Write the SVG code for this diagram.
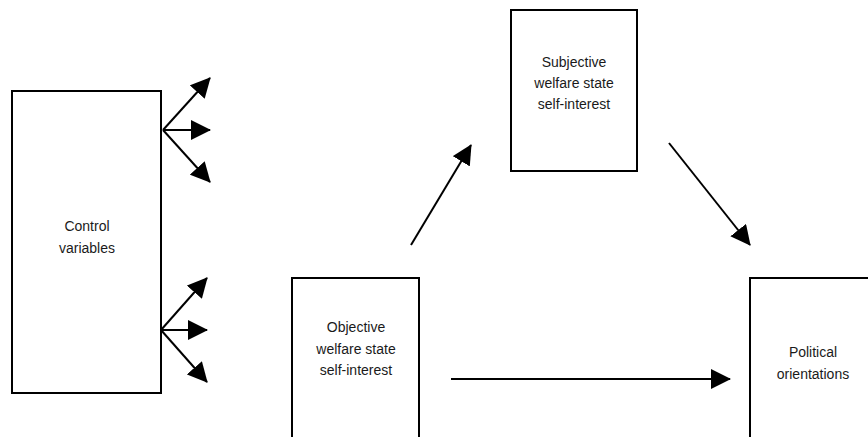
<svg xmlns="http://www.w3.org/2000/svg" width="868" height="437" viewBox="0 0 868 437">
<defs>
<marker id="ah" markerUnits="userSpaceOnUse" markerWidth="20" markerHeight="20" refX="19" refY="10" orient="auto" viewBox="0 0 20 20">
<path d="M0,0 L20,10 L0,20 z" fill="#000"/>
</marker>
<style>
.box{fill:#fff;stroke:#000;stroke-width:2}
.lbl{font-family:"Liberation Sans",Arial,sans-serif;font-size:14px;fill:#1a1a1a;text-anchor:middle}
.edge{stroke:#000;stroke-width:2;fill:none;marker-end:url(#ah)}
</style>
</defs>
<rect width="868" height="437" fill="#fff"/>
<g id="control">
<rect class="box" x="12" y="91" width="149" height="302"/>
<text class="lbl" x="87" y="231">Control</text>
<text class="lbl" x="87" y="253">variables</text>
</g>
<g id="subjective">
<rect class="box" x="511" y="10" width="126" height="161"/>
<text class="lbl" x="574" y="67">Subjective</text>
<text class="lbl" x="574" y="88">welfare state</text>
<text class="lbl" x="574" y="109">self-interest</text>
</g>
<g id="objective">
<rect class="box" x="292" y="278" width="127" height="170"/>
<text class="lbl" x="356" y="332">Objective</text>
<text class="lbl" x="356" y="354">welfare state</text>
<text class="lbl" x="356" y="375">self-interest</text>
</g>
<g id="political">
<rect class="box" x="750" y="278" width="130" height="170"/>
<text class="lbl" x="813" y="357">Political</text>
<text class="lbl" x="813" y="379">orientations</text>
</g>
<g id="connectors">
<line class="edge" x1="163" y1="130" x2="210" y2="78"/>
<line class="edge" x1="163" y1="130" x2="210" y2="130"/>
<line class="edge" x1="163" y1="130" x2="210" y2="182"/>
<line class="edge" x1="161" y1="330" x2="207" y2="278"/>
<line class="edge" x1="161" y1="330" x2="207" y2="330"/>
<line class="edge" x1="161" y1="330" x2="207" y2="382"/>
<line class="edge" x1="411" y1="245" x2="471" y2="145"/>
<line class="edge" x1="669" y1="143" x2="750" y2="245"/>
<line class="edge" x1="451" y1="379" x2="730" y2="379"/>
</g>
</svg>
